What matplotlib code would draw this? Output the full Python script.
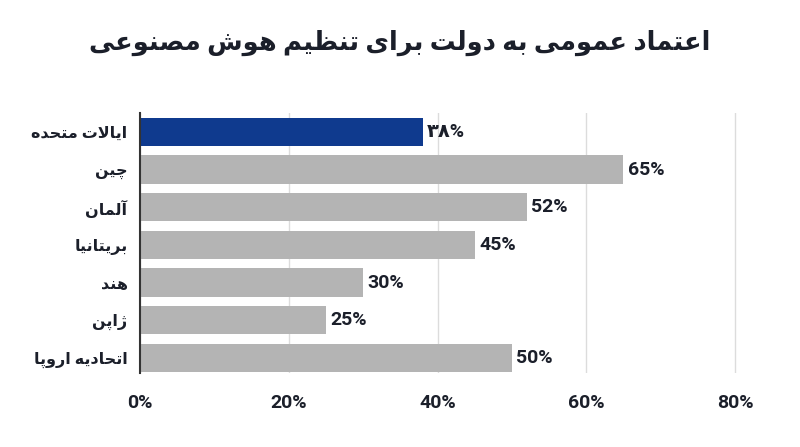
import matplotlib
matplotlib.use("Agg")
import matplotlib.pyplot as plt

# ---------------- data ----------------
title_text = "اعتماد عمومی به دولت برای تنظیم هوش مصنوعی"
countries = ["ایالات متحده", "چین", "آلمان", "بریتانیا", "هند", "ژاپن", "اتحادیه اروپا"]
values = [38, 65, 52, 45, 30, 25, 50]
value_labels = ["۳۸%", "65%", "52%", "45%", "30%", "25%", "50%"]
highlight = [True, False, False, False, False, False, False]
x_ticks = [0, 20, 40, 60, 80]
x_tick_labels = ["0%", "20%", "40%", "60%", "80%"]

# ------------- minimal Arabic/Persian shaping -------------
FORMS = {
    "\u0627": (0xFE8D, 0xFE8E, None, None),
    "\u0622": (0xFE81, 0xFE82, None, None),
    "\u0628": (0xFE8F, 0xFE90, 0xFE91, 0xFE92),
    "\u067E": (0xFB56, 0xFB57, 0xFB58, 0xFB59),
    "\u062A": (0xFE95, 0xFE96, 0xFE97, 0xFE98),
    "\u062D": (0xFEA1, 0xFEA2, 0xFEA3, 0xFEA4),
    "\u0686": (0xFB7A, 0xFB7B, 0xFB7C, 0xFB7D),
    "\u062F": (0xFEA9, 0xFEAA, None, None),
    "\u0631": (0xFEAD, 0xFEAE, None, None),
    "\u0698": (0xFB8A, 0xFB8B, None, None),
    "\u0634": (0xFEB5, 0xFEB6, 0xFEB7, 0xFEB8),
    "\u0635": (0xFEB9, 0xFEBA, 0xFEBB, 0xFEBC),
    "\u0638": (0xFEC5, 0xFEC6, 0xFEC7, 0xFEC8),
    "\u0639": (0xFEC9, 0xFECA, 0xFECB, 0xFECC),
    "\u0644": (0xFEDD, 0xFEDE, 0xFEDF, 0xFEE0),
    "\u0645": (0xFEE1, 0xFEE2, 0xFEE3, 0xFEE4),
    "\u0646": (0xFEE5, 0xFEE6, 0xFEE7, 0xFEE8),
    "\u0647": (0xFEE9, 0xFEEA, 0xFEEB, 0xFEEC),
    "\u0648": (0xFEED, 0xFEEE, None, None),
    "\u06CC": (0xFBFC, 0xFBFD, 0xFBFE, 0xFBFF),
}
LAM_ALEF = {"\u0627": (0xFEFB, 0xFEFC), "\u0622": (0xFEF5, 0xFEF6)}


def shape(text):
    out = []
    n = len(text)
    i = 0
    while i < n:
        c = text[i]
        if c not in FORMS:
            out.append(c)
            i += 1
            continue
        prev = text[i - 1] if i > 0 else None
        prev_conn = prev in FORMS and FORMS[prev][2] is not None
        if c == "\u0644" and i + 1 < n and text[i + 1] in LAM_ALEF:
            iso, fin = LAM_ALEF[text[i + 1]]
            out.append(chr(fin if prev_conn else iso))
            i += 2
            continue
        nxt = text[i + 1] if i + 1 < n else None
        f = FORMS[c]
        next_conn = f[2] is not None and nxt in FORMS
        if prev_conn and next_conn:
            cp = f[3]
        elif prev_conn:
            cp = f[1]
        elif next_conn:
            cp = f[2]
        else:
            cp = f[0]
        out.append(chr(cp))
        i += 1
    return "".join(out)[::-1]


FAM = ["Roboto", "DejaVu Sans"]
TXT = "#1b1f2a"
BLUE = "#0f3a8e"
GREY = "#b4b4b4"

fig = plt.figure(figsize=(8, 4.47), dpi=100)
ax = fig.add_axes([0.175, 0.1655, 0.781, 0.5815])

ypos = list(range(len(countries)))
colors = [BLUE if h else GREY for h in highlight]
ax.barh(ypos, values, height=0.75, color=colors, zorder=3)

ax.set_xlim(0, 84)
ax.set_ylim(6.4, -0.5)

for y, v, lab in zip(ypos, values, value_labels):
    ax.text(v + 0.6, y, lab, va="center", ha="left", fontsize=14,
            fontweight="bold", color=TXT, family=FAM, zorder=4)

ax.set_yticks(ypos)
ax.set_yticklabels([shape(c) for c in countries], fontsize=11.5, fontweight="bold",
                   color=TXT, family=FAM)
ax.tick_params(axis="y", length=0, pad=9)

ax.set_xticks(x_ticks)
ax.set_xticklabels(x_tick_labels, fontsize=14, fontweight="bold", color=TXT, family=FAM)
ax.tick_params(axis="x", length=0, pad=15)

ax.grid(axis="x", color="#dcdcdc", linewidth=1, zorder=0)
for s in ["top", "right", "bottom"]:
    ax.spines[s].set_visible(False)
ax.spines["left"].set_color("#333333")
ax.spines["left"].set_linewidth(1.5)
ax.spines["left"].set_zorder(5)

fig.text(0.5, 0.903, shape(title_text), ha="center", va="center", fontsize=18.5,
         fontweight="bold", color=TXT, family=FAM)

fig.savefig("out.png", dpi=100)
